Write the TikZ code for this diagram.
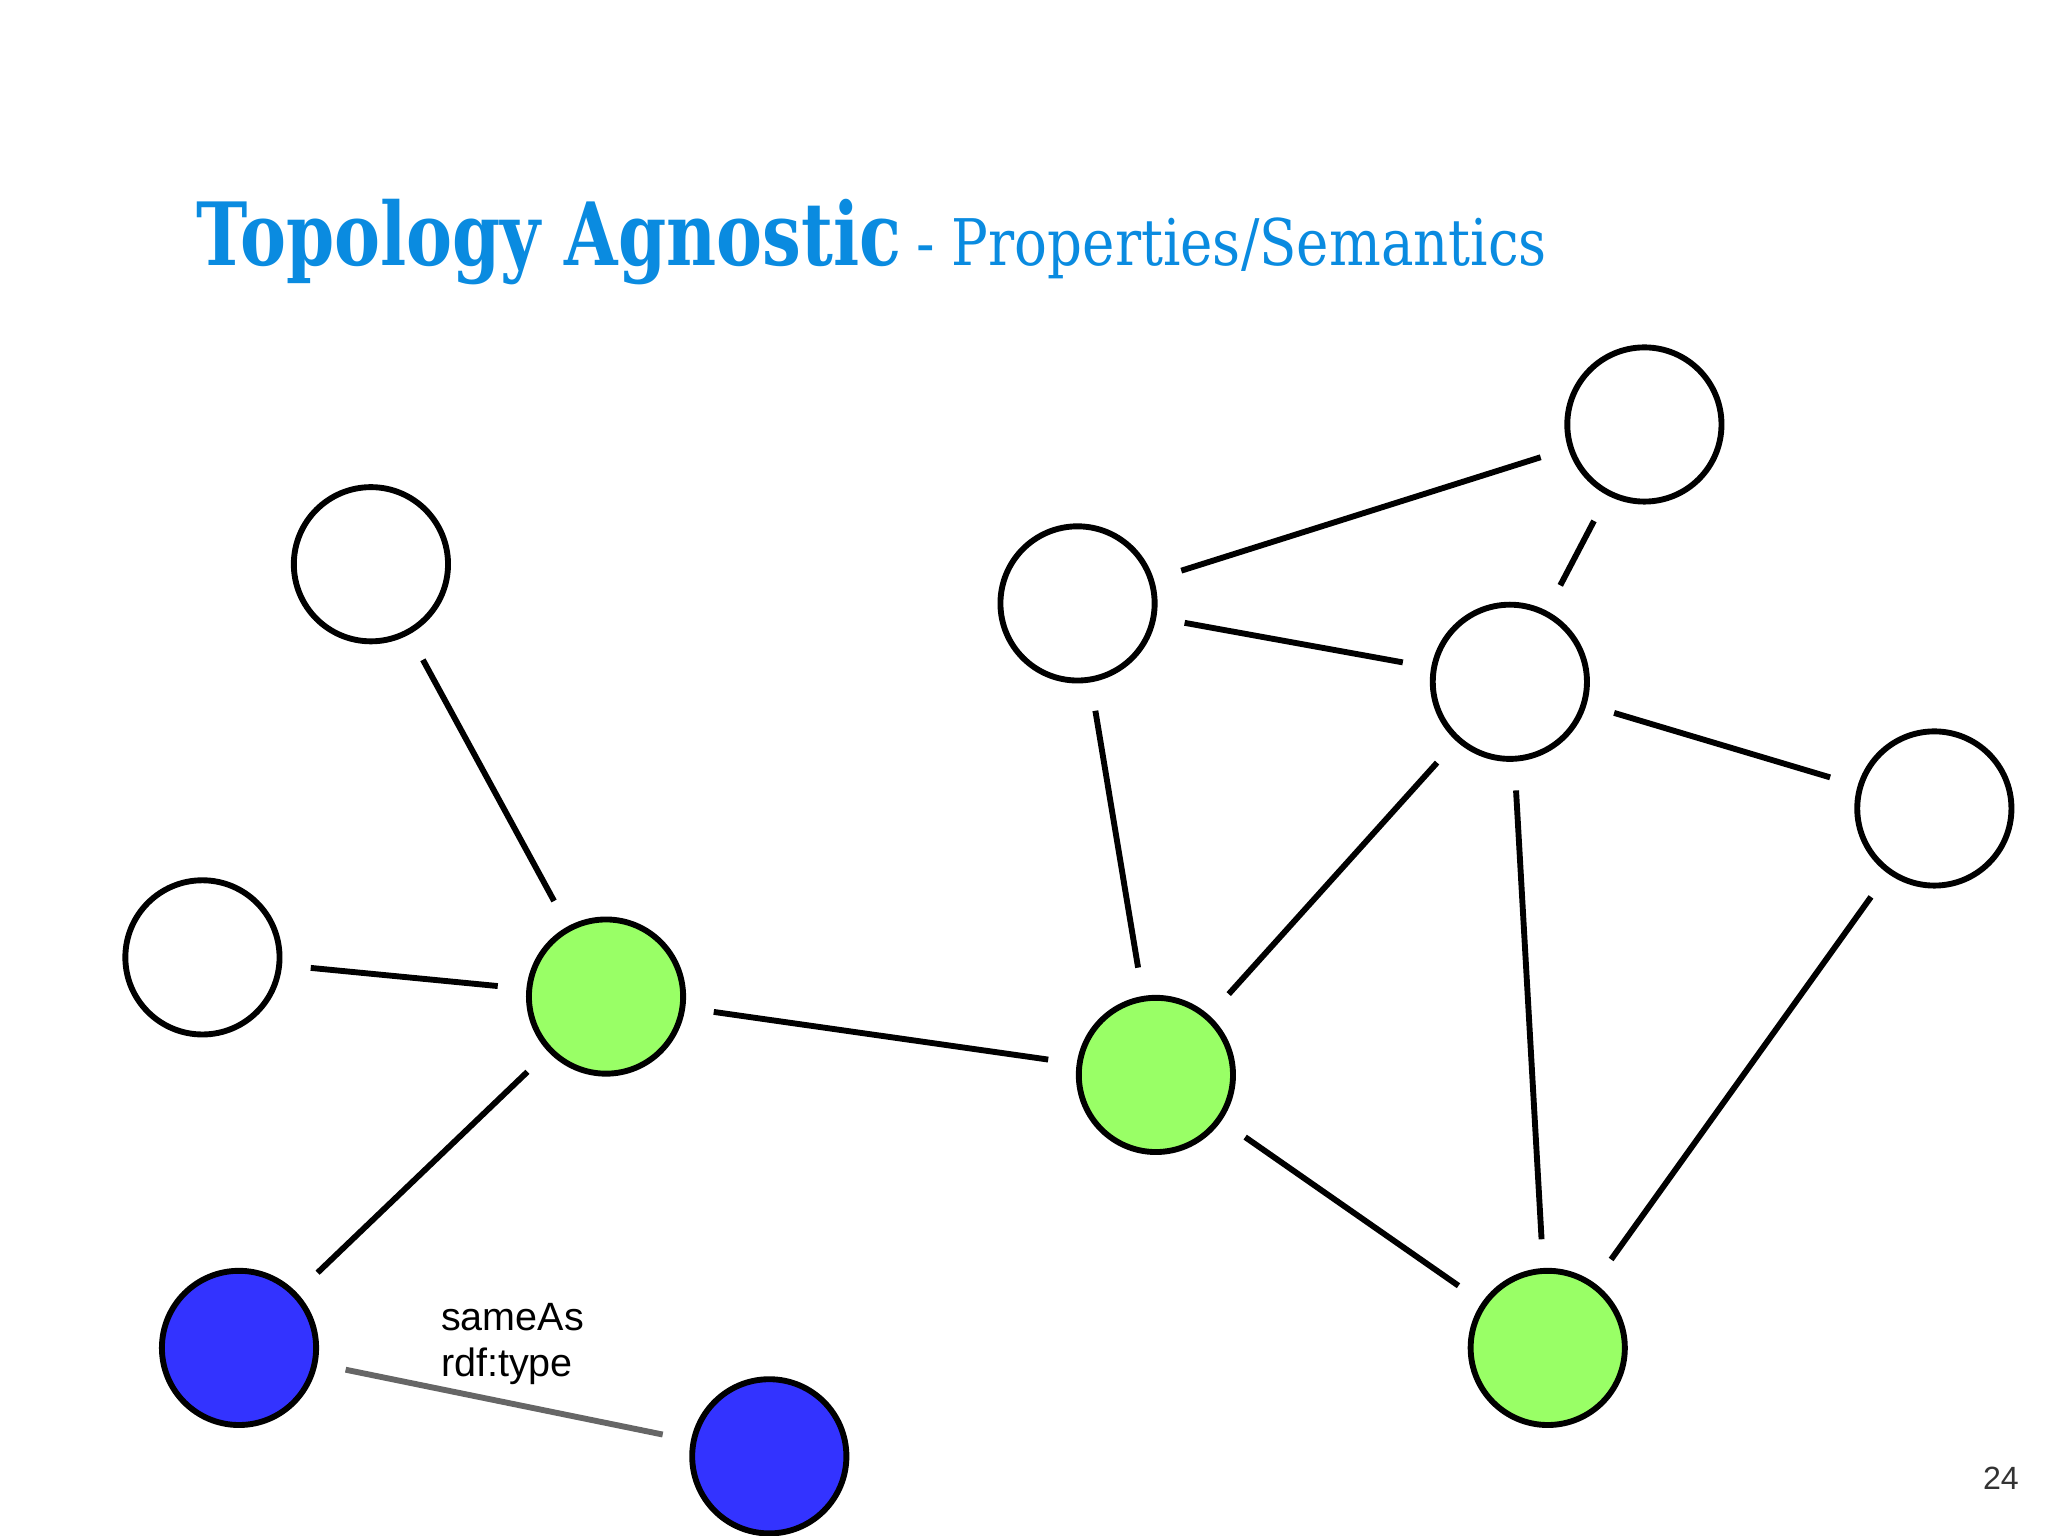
\documentclass[tikz,border=0pt]{standalone}
\usepackage{fontspec}
\setmainfont{Liberation Sans}
\newfontfamily\slab{DejaVu Serif}
\definecolor{tblue}{HTML}{0A8BE0}
\definecolor{ngreen}{HTML}{99FF66}
\definecolor{nblue}{HTML}{3333FF}
\begin{document}
\begin{tikzpicture}[x=0.01cm,y=-0.01cm,
  nd/.style={circle,draw=black,line width=0.045cm,minimum size=1.18cm,inner sep=0pt},
  ed/.style={line width=0.045cm,shorten <=0.22cm,shorten >=0.22cm}]
\useasboundingbox (0,0) rectangle (1568,1176);
\node[anchor=base west,text=tblue,inner sep=0pt] (title) at (150,203) {\slab\scalebox{0.79}[1]{\fontsize{19pt}{22pt}\selectfont\bfseries Topology Agnostic}\ \scalebox{0.85}[1]{\fontsize{14pt}{16pt}\selectfont - Properties/Semantics}};
\node[nd,fill=white] (A) at (284,432) {};
\node[nd,fill=white] (B) at (155,733) {};
\node[nd,fill=ngreen] (C) at (464,763) {};
\node[nd,fill=nblue] (D) at (183,1032) {};
\node[nd,fill=nblue] (E) at (589,1115) {};
\node[nd,fill=white] (F) at (825,462) {};
\node[nd,fill=white] (G) at (1259,325) {};
\node[nd,fill=white] (H) at (1156,522) {};
\node[nd,fill=white] (I) at (1481,619) {};
\node[nd,fill=ngreen] (J) at (885,823) {};
\node[nd,fill=ngreen] (K) at (1185,1032) {};
\draw[ed] (A)--(C); \draw[ed] (B)--(C); \draw[ed] (C)--(J); \draw[ed] (C)--(D);
\draw[ed,draw=black!60] (D)--(E);
\draw[ed] (F)--(J); \draw[ed] (F)--(G); \draw[ed] (F)--(H); \draw[ed] (G)--(H);
\draw[ed] (H)--(J); \draw[ed] (H)--(I); \draw[ed] (H)--(K); \draw[ed] (I)--(K); \draw[ed] (J)--(K);
\node[anchor=west,align=left,inner sep=0pt,font=\fontsize{8.6pt}{10pt}\selectfont] (lab) at (337,1029) {sameAs\\rdf:type};
\node[inner sep=0pt,font=\fontsize{7pt}{8pt}\selectfont,text=black!80] (pg) at (1532,1132) {24};
\end{tikzpicture}
\end{document}
